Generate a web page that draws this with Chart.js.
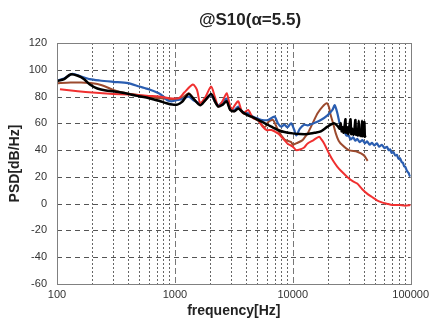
<!DOCTYPE html>
<html>
<head>
<meta charset="utf-8">
<script src="https://cdn.jsdelivr.net/npm/chart.js@4"></script>
<style>
  html, body { margin: 0; padding: 0; background: #fff; }
  #wrap { width: 433px; height: 332px; }
</style>
</head>
<body>
<div id="wrap"><canvas id="chart"></canvas></div>
<script>
// 读图得到的数据 (频率 Hz, PSD dB/Hz)
const blackFreq = [100, 115, 130, 150, 170, 190, 220, 260, 300, 350, 400, 480, 560, 650, 750, 850, 950, 1050, 1150, 1310, 1450, 1640, 1800, 2030, 2200, 2340, 2550, 2750, 2950, 3200, 3450, 3800, 4180, 4600, 5080, 5800, 6580, 7480, 8500, 10000, 11500, 13400, 15500, 17300, 19700, 22400, 24000, 25000, 25500, 26000, 26500, 27000, 27500, 28000, 28300, 29000, 29500, 30000, 30900, 31300, 32000, 32700, 33300, 34000, 34400, 35000, 35600, 36300, 36700, 37300, 38000, 38700, 39100, 39700, 40500, 40900, 41400];
const blackVal = [91.5, 93, 96.5, 95.5, 93, 89, 86, 84.5, 84, 83, 82, 80.5, 79.5, 78, 76.5, 75, 74, 74, 76, 82, 78, 73.5, 77, 82, 76, 72.5, 74, 76.5, 70, 69, 71, 68, 66, 64.5, 62.5, 60, 57.5, 55, 53.5, 52.5, 52, 52, 53, 54, 57.5, 60, 58, 56, 60, 54, 57, 53, 58, 63, 53, 57, 52, 56, 63, 52, 56, 51.5, 55, 62.5, 51.5, 55, 51, 62, 51, 54.5, 50.5, 62, 50.5, 54, 61, 50, 51];

const redFreq = [106, 150, 200, 300, 400, 500, 600, 734, 890, 1080, 1200, 1420, 1540, 1640, 1800, 2030, 2180, 2340, 2550, 2750, 2900, 3030, 3250, 3450, 3650, 3800, 4180, 4600, 5080, 5500, 6000, 6600, 7480, 8000, 8500, 9000, 10000, 10700, 11500, 12500, 13370, 15000, 16740, 17500, 18450, 20300, 22000, 23900, 26000, 29000, 32000, 35200, 38700, 42700, 47000, 51800, 57000, 62900, 70000, 80000, 90000, 100000];
const redVal = [85.5, 84, 83, 82, 81.5, 81, 80.5, 80, 78.75, 78.75, 83, 89, 85, 75, 79, 87.5, 80, 72.5, 77, 82.5, 75, 70, 74, 76.5, 70, 67.5, 70, 64, 62.5, 58, 55, 55, 52.5, 50, 47.5, 45, 42.5, 40, 40.5, 42, 45, 47.5, 50, 48, 45, 37.5, 32, 27.5, 24, 20, 17, 15, 11, 7.5, 5, 2.5, 1, 0, -1, -1, -1.5, -1];

const blueFreq = [100, 115, 135, 160, 190, 230, 300, 400, 500, 600, 730, 800, 870, 950, 1050, 1150, 1310, 1450, 1640, 1800, 2030, 2200, 2340, 2550, 2750, 2950, 3200, 3450, 3800, 4180, 4600, 5080, 5500, 6160, 7000, 7480, 8000, 8500, 9000, 9680, 10300, 10700, 11500, 12500, 13400, 15000, 17300, 19700, 21700, 22700, 23900, 25000, 26300, 27500, 28500, 29900, 31000, 32500, 34000, 35200, 37000, 39000, 41000, 42700, 45000, 47000, 49000, 51800, 54000, 57000, 60000, 62900, 65000, 67000, 69000, 71500, 74000, 76300, 79000, 81300, 84000, 86000, 88000, 90000, 93000, 96000, 98000, 100000];
const blueVal = [92, 93.5, 97, 95, 93, 92, 91, 90, 87.5, 85.5, 82.5, 80, 77, 76.5, 77.5, 78, 80, 77, 75, 77.5, 81, 76, 73.5, 76, 78.5, 71, 70, 72.5, 68, 67.5, 65, 63.5, 62.5, 62.5, 65, 60, 57.5, 59, 57, 60, 55, 51, 56, 59, 58.5, 60, 62.5, 66, 70, 73.5, 67.5, 60, 55, 53.5, 51, 50.5, 48, 49.5, 47, 48.5, 46, 47.5, 45, 46.5, 44, 45.5, 43.5, 45, 42.5, 44, 41.5, 42.5, 40, 40.5, 38, 38.5, 36, 36.5, 33.5, 34, 31, 30.5, 28, 27.5, 24.5, 23, 21, 20.5];

const brownFreq = [100, 130, 160, 200, 240, 300, 390, 500, 600, 700, 800, 900, 1000, 1150, 1310, 1450, 1640, 1800, 2030, 2200, 2340, 2550, 2750, 2950, 3200, 3450, 3800, 4180, 4600, 5080, 5780, 6200, 6800, 7480, 8500, 9700, 10000, 11000, 12130, 12500, 13370, 14740, 16240, 17900, 19430, 20300, 21000, 22000, 23170, 24500, 26300, 29900, 35200, 40000, 43200];
const brownVal = [90, 90.5, 90.5, 90, 88.5, 85, 82.5, 81, 80, 79, 78.5, 78, 77.5, 79, 82.5, 78, 74, 77, 81, 75.5, 72.5, 75, 77, 70, 69, 71.5, 67.5, 66, 64, 62, 57, 61, 62.5, 55, 48, 46, 44, 45.5, 47.5, 49, 52.5, 60, 67.5, 72.5, 75, 72, 66, 60, 52.5, 47, 43.75, 40, 38.75, 36.25, 32];

// 坐标轴刻度
const xTicks = [100, 1000, 10000, 100000];
const xMinor = [200, 300, 400, 500, 600, 700, 800, 900, 2000, 3000, 4000, 5000, 6000, 7000, 8000, 9000, 20000, 30000, 40000, 50000, 60000, 70000, 80000, 90000];
const yTicks = [-60, -40, -20, 0, 20, 40, 60, 80, 100, 120];

const FONT = "'Liberation Sans', Arial, sans-serif";

function toPoints(freq, val) {
  return freq.map((f, i) => ({ x: f, y: val[i] }));
}

// 自己画网格线和外框 (主/次网格线虚线样式不同)
const gridPlugin = {
  id: "gridLines",
  beforeDatasetsDraw(chart) {
    const { ctx, chartArea: a, scales } = chart;
    const x = scales.x, y = scales.y;
    ctx.save();
    ctx.lineWidth = 1;
    // 水平虚线
    ctx.strokeStyle = "#555";
    ctx.setLineDash([5, 4]);
    yTicks.slice(1, -1).forEach((v) => {
      const py = Math.round(y.getPixelForValue(v)) + 0.5;
      ctx.beginPath();
      ctx.moveTo(a.left, py);
      ctx.lineTo(a.right, py);
      ctx.stroke();
    });
    // 次网格 点线
    ctx.strokeStyle = "#666";
    ctx.setLineDash([2, 2]);
    xMinor.forEach((v) => {
      const px = Math.round(x.getPixelForValue(v)) + 0.5;
      ctx.beginPath();
      ctx.moveTo(px, a.top);
      ctx.lineTo(px, a.bottom);
      ctx.stroke();
    });
    // 主网格 长虚线
    ctx.strokeStyle = "#777";
    ctx.setLineDash([6, 3]);
    xTicks.slice(1, -1).forEach((v) => {
      const px = Math.round(x.getPixelForValue(v)) + 0.5;
      ctx.beginPath();
      ctx.moveTo(px, a.top);
      ctx.lineTo(px, a.bottom);
      ctx.stroke();
    });
    ctx.restore();
  },
  afterDraw(chart) {
    const { ctx, chartArea: a } = chart;
    ctx.save();
    ctx.strokeStyle = "#808080";
    ctx.lineWidth = 1;
    ctx.strokeRect(Math.round(a.left) + 0.5, Math.round(a.top) + 0.5, Math.round(a.right - a.left), Math.round(a.bottom - a.top));
    // 标题
    ctx.fillStyle = "#222";
    ctx.font = "bold 17px " + FONT;
    ctx.textAlign = "center";
    ctx.textBaseline = "middle";
    ctx.fillText("@S10(α=5.5)", 250, 20);
    ctx.restore();
  },
};

const ctx = document.getElementById("chart").getContext("2d");
const chart = new Chart(ctx, {
  type: "line",
  data: {
    datasets: [
      { label: "black", data: toPoints(blackFreq, blackVal), borderColor: "#000000", borderWidth: 2.5 },
      { label: "red", data: toPoints(redFreq, redVal), borderColor: "#f03030", borderWidth: 2 },
      { label: "blue", data: toPoints(blueFreq, blueVal), borderColor: "#2a5db0", borderWidth: 2.2 },
      { label: "brown", data: toPoints(brownFreq, brownVal), borderColor: "#9c4a2e", borderWidth: 2 },
    ],
  },
  options: {
    responsive: true,
    maintainAspectRatio: false,
    animation: false,
    devicePixelRatio: 1,
    layout: { padding: { left: 0, right: 19, top: 43, bottom: 0 } },
    elements: {
      point: { radius: 0 },
      line: { tension: 0.25, fill: false },
    },
    plugins: {
      legend: { display: false },
      tooltip: { enabled: false },
    },
    scales: {
      x: {
        type: "logarithmic",
        min: 100,
        max: 100000,
        afterBuildTicks: (scale) => {
          scale.ticks = xTicks.map((v) => ({ value: v }));
        },
        afterFit: (scale) => {
          scale.height = 48;
        },
        grid: { display: false, drawTicks: false },
        border: { display: false },
        ticks: {
          padding: 4,
          maxRotation: 0,
          autoSkip: false,
          color: "#333",
          font: { family: FONT, size: 11 },
          callback: (v) => String(v),
        },
        title: {
          display: true,
          text: "frequency[Hz]",
          color: "#222",
          font: { family: FONT, size: 14, weight: "bold" },
          padding: { top: 12, bottom: 12 },
        },
      },
      y: {
        min: -60,
        max: 120,
        afterBuildTicks: (scale) => {
          scale.ticks = yTicks.map((v) => ({ value: v }));
        },
        afterFit: (scale) => {
          scale.width = 57;
        },
        grid: { display: false, drawTicks: false },
        border: { display: false },
        ticks: {
          padding: 10,
          color: "#333",
          font: { family: FONT, size: 11 },
        },
        title: {
          display: true,
          text: "PSD[dB/Hz]",
          color: "#222",
          font: { family: FONT, size: 14, weight: "bold" },
          padding: { top: 7, bottom: 7 },
        },
      },
    },
  },
  plugins: [gridPlugin],
});
</script>
</body>
</html>
